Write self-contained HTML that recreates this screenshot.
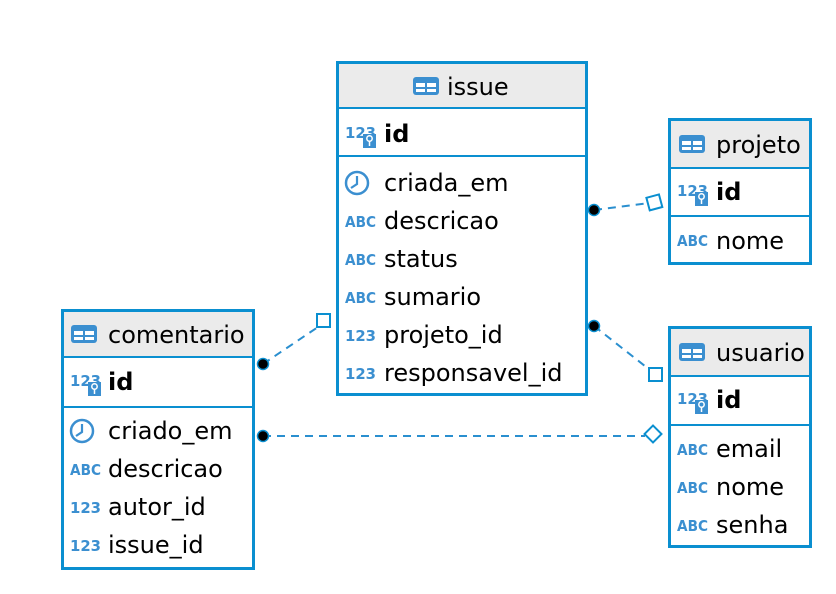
<!DOCTYPE html>
<html><head><meta charset="utf-8"><style>
body{margin:0;width:836px;height:590px;background:#fff;overflow:hidden;font-family:"DejaVu Sans",sans-serif}
.a{font-size:15px;font-weight:bold;fill:#3b8fd0}
</style></head><body>
<svg width="836" height="590" xmlns="http://www.w3.org/2000/svg" font-family="DejaVu Sans, sans-serif">
<defs>
<g id="tbl"><rect x="0" y="0" width="26" height="18" rx="3" fill="#3b8fd0"/><rect x="3" y="6" width="9" height="4" fill="#fff"/><rect x="14" y="6" width="9" height="4" fill="#fff"/><rect x="3" y="12" width="9" height="3" fill="#fff"/><rect x="14" y="12" width="9" height="3" fill="#fff"/></g>
<g id="key"><text x="0" y="10" class="a" textLength="31" lengthAdjust="spacingAndGlyphs">123</text><rect x="18" y="6" width="13" height="14" fill="#3b8fd0"/><circle cx="24.5" cy="10.5" r="2.7" fill="none" stroke="#fff" stroke-width="1.5"/><line x1="24.5" y1="13" x2="24.5" y2="18" stroke="#fff" stroke-width="1.5"/></g>
<g id="clk"><circle cx="12" cy="0" r="11" fill="none" stroke="#3b8fd0" stroke-width="2.5"/><polyline points="12,-7 12,1 6,5" fill="none" stroke="#3b8fd0" stroke-width="2.2"/></g>
</defs>
<g fill="none" stroke="#2a8fcf" stroke-width="2" stroke-dasharray="8,6">
<line x1="594" y1="210" x2="650" y2="203"/>
<line x1="594" y1="326" x2="650" y2="370"/>
<line x1="263" y1="364" x2="318" y2="327"/>
<line x1="263" y1="436" x2="645" y2="436"/>
</g>
<g fill="#000" stroke="#0a8fd0" stroke-width="1.5">
<circle cx="594" cy="210" r="5.5"/><circle cx="594" cy="326" r="5.5"/><circle cx="263" cy="364" r="5.5"/><circle cx="263" cy="436" r="5.5"/>
</g>
<g fill="#fff" stroke="#0a8fd0" stroke-width="2">
<rect x="648" y="196" width="13" height="13" transform="rotate(-15 654 203)"/>
<rect x="649" y="368" width="13" height="13"/>
<rect x="317" y="314" width="13" height="13"/>
<rect x="647" y="428" width="12" height="12" transform="rotate(45 653 434)"/>
</g>
<!-- issue -->
<rect x="337.5" y="62.5" width="249" height="332" fill="#fff" stroke="#0a8fd0" stroke-width="3"/>
<rect x="339" y="64" width="246" height="43" fill="#ebebeb"/>
<line x1="339" y1="108" x2="585" y2="108" stroke="#0a8fd0" stroke-width="2"/>
<line x1="339" y1="156" x2="585" y2="156" stroke="#0a8fd0" stroke-width="2"/>
<use href="#tbl" x="413" y="77"/><text x="447" y="95" font-size="24">issue</text>
<use href="#key" x="345" y="128"/><text x="384" y="142" font-size="24" font-weight="bold">id</text>
<use href="#clk" x="345" y="183"/><text x="384" y="191" font-size="24">criada_em</text>
<text x="345" y="227" class="a" textLength="31" lengthAdjust="spacingAndGlyphs">ABC</text><text x="384" y="229" font-size="24">descricao</text>
<text x="345" y="265" class="a" textLength="31" lengthAdjust="spacingAndGlyphs">ABC</text><text x="384" y="267" font-size="24">status</text>
<text x="345" y="303" class="a" textLength="31" lengthAdjust="spacingAndGlyphs">ABC</text><text x="384" y="305" font-size="24">sumario</text>
<text x="345" y="341" class="a" textLength="31" lengthAdjust="spacingAndGlyphs">123</text><text x="384" y="343" font-size="24">projeto_id</text>
<text x="345" y="379" class="a" textLength="31" lengthAdjust="spacingAndGlyphs">123</text><text x="384" y="381" font-size="24">responsavel_id</text>
<!-- projeto -->
<rect x="669.5" y="119.5" width="141" height="144" fill="#fff" stroke="#0a8fd0" stroke-width="3"/>
<rect x="671" y="121" width="138" height="46" fill="#ebebeb"/>
<line x1="671" y1="168" x2="809" y2="168" stroke="#0a8fd0" stroke-width="2"/>
<line x1="671" y1="216" x2="809" y2="216" stroke="#0a8fd0" stroke-width="2"/>
<use href="#tbl" x="679" y="135"/><text x="716" y="153" font-size="24">projeto</text>
<use href="#key" x="677" y="186"/><text x="716" y="200" font-size="24" font-weight="bold">id</text>
<text x="677" y="246" class="a" textLength="31" lengthAdjust="spacingAndGlyphs">ABC</text><text x="716" y="249" font-size="24">nome</text>
<!-- comentario -->
<rect x="62.5" y="310.5" width="191" height="258" fill="#fff" stroke="#0a8fd0" stroke-width="3"/>
<rect x="64" y="312" width="188" height="44" fill="#ebebeb"/>
<line x1="64" y1="357" x2="252" y2="357" stroke="#0a8fd0" stroke-width="2"/>
<line x1="64" y1="407" x2="252" y2="407" stroke="#0a8fd0" stroke-width="2"/>
<use href="#tbl" x="71" y="325"/><text x="108" y="343" font-size="24">comentario</text>
<use href="#key" x="70" y="376"/><text x="108" y="390" font-size="24" font-weight="bold">id</text>
<use href="#clk" x="70" y="431"/><text x="108" y="439" font-size="24">criado_em</text>
<text x="70" y="475" class="a" textLength="31" lengthAdjust="spacingAndGlyphs">ABC</text><text x="108" y="477" font-size="24">descricao</text>
<text x="70" y="513" class="a" textLength="31" lengthAdjust="spacingAndGlyphs">123</text><text x="108" y="515" font-size="24">autor_id</text>
<text x="70" y="551" class="a" textLength="31" lengthAdjust="spacingAndGlyphs">123</text><text x="108" y="553" font-size="24">issue_id</text>
<!-- usuario -->
<rect x="669.5" y="327.5" width="141" height="219" fill="#fff" stroke="#0a8fd0" stroke-width="3"/>
<rect x="671" y="329" width="138" height="46" fill="#ebebeb"/>
<line x1="671" y1="376" x2="809" y2="376" stroke="#0a8fd0" stroke-width="2"/>
<line x1="671" y1="425" x2="809" y2="425" stroke="#0a8fd0" stroke-width="2"/>
<use href="#tbl" x="679" y="343"/><text x="716" y="361" font-size="24">usuario</text>
<use href="#key" x="677" y="394"/><text x="716" y="408" font-size="24" font-weight="bold">id</text>
<text x="677" y="455" class="a" textLength="31" lengthAdjust="spacingAndGlyphs">ABC</text><text x="716" y="457" font-size="24">email</text>
<text x="677" y="493" class="a" textLength="31" lengthAdjust="spacingAndGlyphs">ABC</text><text x="716" y="495" font-size="24">nome</text>
<text x="677" y="531" class="a" textLength="31" lengthAdjust="spacingAndGlyphs">ABC</text><text x="716" y="533" font-size="24">senha</text>
</svg>
</body></html>
